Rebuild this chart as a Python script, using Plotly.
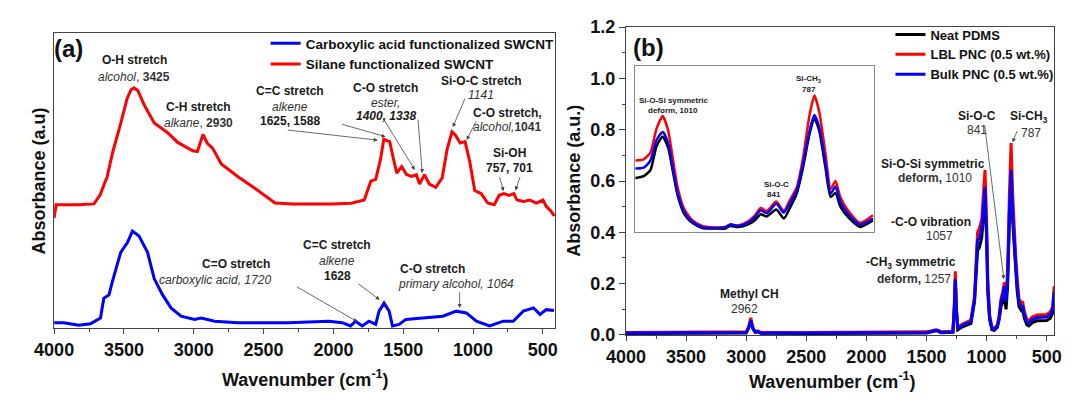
import plotly.graph_objects as go

# ---------------- data: panel (a) ----------------
wn_silane = [4000, 3986, 3826, 3714, 3686, 3672, 3620, 3581, 3525, 3477, 3449, 3428, 3400, 3355,
             3283, 3187, 3115, 3007, 2974, 2955, 2934, 2904, 2863, 2803, 2683, 2563, 2418, 2290,
             2151, 2011, 1872, 1779, 1732, 1697, 1662, 1639, 1621, 1597, 1570, 1546, 1511, 1476,
             1441, 1406, 1383, 1348, 1313, 1267, 1221, 1186, 1151, 1127, 1092, 1057, 1023, 988,
             942, 895, 848, 813, 778, 743, 708, 685, 639, 593, 546, 499, 476, 441, 418]
abs_silane = [0.373, 0.418, 0.418, 0.421, 0.441, 0.450, 0.513, 0.595, 0.690, 0.778, 0.807, 0.814,
              0.804, 0.756, 0.695, 0.662, 0.629, 0.601, 0.598, 0.625, 0.656, 0.627, 0.608, 0.556,
              0.513, 0.474, 0.424, 0.421, 0.420, 0.421, 0.423, 0.434, 0.498, 0.504, 0.573, 0.640,
              0.636, 0.632, 0.573, 0.525, 0.547, 0.520, 0.514, 0.520, 0.488, 0.520, 0.488, 0.477,
              0.509, 0.605, 0.665, 0.654, 0.627, 0.632, 0.563, 0.466, 0.456, 0.424, 0.418, 0.450,
              0.456, 0.450, 0.456, 0.434, 0.429, 0.434, 0.424, 0.434, 0.413, 0.396, 0.380]

wn_carboxyl = [4000, 3932, 3823, 3740, 3668, 3644, 3607, 3583, 3523, 3475, 3439, 3392, 3331, 3283,
               3223, 3163, 3091, 2995, 2946, 2851, 2683, 2322, 2034, 1937, 1877, 1841, 1794, 1745,
               1697, 1673, 1637, 1601, 1577, 1529, 1481, 1361, 1216, 1120, 1048, 976, 881, 784,
               712, 640, 567, 520, 476, 420]
abs_carboxyl = [0.019, 0.019, 0.010, 0.015, 0.035, 0.102, 0.113, 0.158, 0.257, 0.290, 0.329, 0.312,
                0.257, 0.168, 0.113, 0.069, 0.041, 0.030, 0.035, 0.024, 0.019, 0.019, 0.024, 0.019,
                0.008, 0.024, 0.008, 0.024, 0.013, 0.058, 0.085, 0.058, 0.008, 0.013, 0.030, 0.035,
                0.041, 0.058, 0.052, 0.024, 0.008, 0.024, 0.024, 0.058, 0.069, 0.047, 0.063, 0.060]

# ---------------- data: panel (b) ----------------
wn_b = [4000, 3500, 3100, 3000, 2980, 2962, 2945, 2925, 2905, 2880, 2500, 2000, 1500, 1420, 1400,
        1380, 1280, 1268, 1260, 1250, 1240, 1200, 1130, 1100, 1090, 1075, 1060, 1040, 1025, 1013,
        1000, 990, 975, 955, 935, 910, 895, 880, 865, 851, 838, 825, 810, 796, 783, 770, 758, 745,
        730, 710, 700, 685, 665, 648, 620, 580, 540, 500, 470, 450, 437]
neat_pdms = [.006, .006, .006, .008, .025, .055, .025, .010, .012, .007, .006, .006, .008, .016, .014,
             .009, .010, .100, .210, .090, .020, .032, .045, .130, .210, .330, .340, .380, .470, .550,
             .380, .170, .060, .020, .018, .030, .060, .110, .130, .150, .100, .190, .440, .620, .450,
             .330, .260, .170, .110, .095, .100, .065, .040, .035, .048, .055, .055, .056, .065, .085, .150]
lbl_pnc = [.010, .010, .010, .012, .030, .067, .030, .012, .016, .010, .010, .010, .012, .020, .018,
           .012, .014, .120, .248, .100, .030, .042, .058, .150, .280, .400, .415, .450, .560, .643,
           .450, .220, .080, .030, .025, .040, .075, .140, .170, .205, .150, .250, .550, .748, .550,
           .400, .310, .220, .140, .125, .130, .090, .060, .055, .070, .078, .080, .080, .090, .110, .190]
bulk_pnc = [.008, .008, .008, .010, .027, .057, .027, .011, .014, .008, .008, .008, .010, .018, .016,
            .010, .012, .110, .217, .090, .025, .038, .052, .140, .260, .370, .375, .420, .500, .575,
            .400, .190, .070, .025, .022, .035, .070, .130, .155, .190, .130, .220, .480, .643, .480,
            .360, .280, .190, .125, .110, .115, .080, .050, .045, .060, .068, .070, .070, .080, .100, .170]

# inset (zoom of 1050-700 cm-1)
wn_in = [1050, 1038, 1028, 1019, 1010, 1002, 995, 988, 978, 966, 952, 933, 918, 911, 899, 885, 875,
         866, 857, 843, 832, 823, 813, 804, 794, 787, 780, 771, 763, 756, 749, 737, 720, 701]
lbl_in = [0.680, 0.684, 0.711, 0.804, 0.853, 0.797, 0.686, 0.575, 0.489, 0.446, 0.425, 0.419, 0.421,
          0.431, 0.427, 0.442, 0.464, 0.495, 0.483, 0.520, 0.483, 0.526, 0.575, 0.686, 0.859, 0.933,
          0.871, 0.711, 0.569, 0.600, 0.538, 0.483, 0.437, 0.467]
bulk_in = [0.649, 0.652, 0.680, 0.760, 0.791, 0.748, 0.649, 0.551, 0.477, 0.440, 0.421, 0.417, 0.420,
           0.430, 0.425, 0.437, 0.458, 0.486, 0.474, 0.511, 0.477, 0.514, 0.563, 0.662, 0.797, 0.857,
           0.810, 0.674, 0.551, 0.579, 0.520, 0.470, 0.430, 0.454]
neat_in = [0.612, 0.619, 0.643, 0.736, 0.773, 0.730, 0.637, 0.544, 0.470, 0.436, 0.417, 0.415, 0.415,
           0.425, 0.421, 0.430, 0.446, 0.470, 0.462, 0.489, 0.454, 0.495, 0.551, 0.649, 0.785, 0.844,
           0.797, 0.656, 0.538, 0.553, 0.501, 0.458, 0.421, 0.446]

x_ticks = [4000, 3500, 3000, 2500, 2000, 1500, 1000, 500]

# ---------------- figure ----------------
W, H = 1070, 401
FONT = "Liberation Sans, Arial, sans-serif"
RED, BLUE, BLACK = "#FF0000", "#0000FF", "#000000"

fig = go.Figure()

fig.add_trace(go.Scatter(x=wn_carboxyl, y=abs_carboxyl, mode="lines", name="Carboxylic acid functionalized SWCNT",
                         line=dict(color=BLUE, width=3), xaxis="x", yaxis="y", legend="legend"))
fig.add_trace(go.Scatter(x=wn_silane, y=abs_silane, mode="lines", name="Silane functionalized SWCNT",
                         line=dict(color=RED, width=3), xaxis="x", yaxis="y", legend="legend"))

fig.add_trace(go.Scatter(x=wn_b, y=neat_pdms, mode="lines", name="Neat PDMS",
                         line=dict(color=BLACK, width=3), xaxis="x2", yaxis="y2", legend="legend2"))
fig.add_trace(go.Scatter(x=wn_b, y=lbl_pnc, mode="lines", name="LBL PNC (0.5 wt.%)",
                         line=dict(color=RED, width=3), xaxis="x2", yaxis="y2", legend="legend2"))
fig.add_trace(go.Scatter(x=wn_b, y=bulk_pnc, mode="lines", name="Bulk PNC (0.5 wt.%)",
                         line=dict(color=BLUE, width=3), xaxis="x2", yaxis="y2", legend="legend2"))

for ys, c in [(neat_in, BLACK), (lbl_in, RED), (bulk_in, BLUE)]:
    fig.add_trace(go.Scatter(x=wn_in, y=ys, mode="lines", showlegend=False,
                             line=dict(color=c, width=2.5, shape="spline", smoothing=0.6),
                             xaxis="x3", yaxis="y3"))

tickfont = dict(family=FONT, size=18, color="#111", weight="bold")
frame = dict(showline=True, linecolor="#444", linewidth=1.2, mirror=True, showgrid=False, zeroline=False)

fig.update_layout(
    width=W, height=H, margin=dict(l=0, r=0, t=0, b=0),
    paper_bgcolor="white", plot_bgcolor="white",
    font=dict(family=FONT, color="#111"),
    xaxis=dict(domain=[35 / W, 549 / W], range=[4000, 412], tickvals=x_ticks, ticks="outside",
               ticklen=5, tickcolor="#444", tickfont=tickfont,
               minor=dict(dtick=250, ticks="outside", ticklen=3, tickcolor="#444"), anchor="y", **frame),
    yaxis=dict(domain=[1 - 335 / H, 1 - 24 / H], range=[0, 1], showticklabels=False, ticks="",
               anchor="x", **frame),
    xaxis2=dict(domain=[621.7 / W, 1061 / W], range=[4000, 437], tickvals=x_ticks, ticks="outside",
                ticklen=5, tickcolor="#444", tickfont=tickfont,
                minor=dict(dtick=250, ticks="outside", ticklen=3, tickcolor="#444"), anchor="y2", **frame),
    yaxis2=dict(domain=[1 - 342 / H, 1 - 18 / H], range=[0, 1.2], dtick=0.2, tickformat=".1f",
                ticks="outside", ticklen=6, tickcolor="#444", tickfont=tickfont,
                minor=dict(dtick=0.1, ticks="outside", ticklen=3, tickcolor="#444"), anchor="x2", **frame),
    xaxis3=dict(domain=[630.7 / W, 875.7 / W], range=[1051, 700], showticklabels=False, ticks="",
                showline=True, linecolor="#888", linewidth=1, mirror=True, showgrid=False, zeroline=False,
                anchor="y3"),
    yaxis3=dict(domain=[1 - 234 / H, 1 - 58.5 / H], range=[0.4, 1.05], showticklabels=False, ticks="",
                showline=True, linecolor="#888", linewidth=1, mirror=True, showgrid=False, zeroline=False,
                anchor="x3"),
    legend=dict(x=252 / W, y=1 - 19 / H, xanchor="left", yanchor="top", bgcolor="rgba(0,0,0,0)",
                font=dict(family=FONT, size=13.5, color="#111", weight="bold"), tracegroupgap=0,
                itemwidth=30),
    legend2=dict(x=893 / W, y=1 - 10 / H, xanchor="left", yanchor="top", bgcolor="rgba(0,0,0,0)",
                 font=dict(family=FONT, size=13, color="#111", weight="bold"), tracegroupgap=0,
                 itemwidth=30),
)

ann = []


def label(text, px, py, size=12, color="#1a1a1a", angle=0):
    ann.append(dict(x=px / W, y=1 - py / H, xref="paper", yref="paper", text=text, showarrow=False,
                    xanchor="center", yanchor="middle", textangle=angle,
                    font=dict(family=FONT, size=size, color=color)))


def arrow(tx, ty, hx, hy):
    ann.append(dict(x=hx / W, y=1 - hy / H, xref="paper", yref="paper", ax=tx - hx, ay=ty - hy,
                    axref="pixel", ayref="pixel", text="", showarrow=True, arrowhead=2, arrowsize=1,
                    arrowwidth=0.8, arrowcolor="#444", standoff=0))


GRAY = "#333"
# panel (a)
label("<b>(a)</b>", 50, 41, size=24, color="#111")
label("<b>O-H stretch</b>", 117, 53)
label("<i>alcohol</i>, <b>3425</b>", 117, 70, color=GRAY)
label("<b>C-H stretch</b>", 183, 102.6)
label("<i>alkane</i>, <b>2930</b>", 183, 118.8, color=GRAY)
label("<b>C=C stretch</b>", 277, 85.4)
label("<i>alkene</i>", 277, 102, color=GRAY)
label("<b>1625, 1588</b>", 277, 117)
label("<b>C-O stretch</b>", 375.3, 82)
label("<i>ester,</i>", 375.3, 97.5, color=GRAY)
label("<b><i>1400, 1338</i></b>", 375.3, 112)
label("<b>Si-O-C stretch</b>", 473.3, 74.5)
label("<i>1141</i>", 473.3, 89.3, color=GRAY)
label("<b>C-O stretch,</b>", 500, 108.3)
label("<i>alcohol,</i><b>1041</b>", 500, 123.3, color=GRAY)
label("<b>Si-OH</b>", 501.7, 150)
label("<b>757, 701</b>", 501.7, 166)
label("<b>C=O stretch</b>", 222, 267)
label("<i>carboxylic acid, 1720</i>", 199.7, 284.4, color=GRAY)
label("<b>C=C stretch</b>", 325.4, 247.5)
label("<i>alkene</i>", 325.4, 263.7, color=GRAY)
label("<b>1628</b>", 325.4, 279.9)
label("<b>C-O stretch</b>", 423.6, 272.3)
label("<i>primary alcohol, 1064</i>", 447.7, 288.8, color=GRAY)

arrow(275.5, 126.7, 367, 137)
arrow(330, 120.5, 375, 133.3)
arrow(373.3, 116.7, 405, 168.3)
arrow(408.3, 116.7, 412.7, 171.7)
arrow(456.7, 93.3, 444, 123.3)
arrow(468.3, 116.7, 458.3, 136.7)
arrow(491.7, 175, 496, 190.7)
arrow(513.3, 175, 508.3, 190)
arrow(284, 292.3, 346, 328)
arrow(346, 287.8, 369, 305)
arrow(451, 296.4, 451, 313.6)

label("<b>Wavenumber (cm<sup>-1</sup>)</b>", 292.7, 387.7, size=18, color="#111")
label("<b>Absorbance (a.u)</b>", 20, 180, size=18, color="#111", angle=-90)

# panel (b)
label("<b>(b)</b>", 645, 39, size=24, color="#111")
label("<b>Si-O-C</b>", 981.7, 111.7)
label("841", 981.7, 126, color=GRAY)
label("<b>Si-CH<sub>3</sub></b>", 1035, 112.7)
label("787", 1037, 129.3, color=GRAY)
label("<b>Si-O-Si symmetric</b>", 936.7, 161.7)
label("<b>deform,</b> 1010", 938.3, 177.3, color=GRAY)
label("<b>-C-O vibration</b>", 935, 223.3)
label("1057", 943.3, 238.3, color=GRAY)
label("<b>-CH<sub>3</sub> symmetric</b>", 914, 266)
label("<b>deform,</b> 1257", 916.7, 283.3, color=GRAY)
label("<b>Methyl CH</b>", 748, 298.7)
label("2962", 742.8, 314.3, color=GRAY)
arrow(990, 128.3, 1009.3, 283.3)
arrow(1023.3, 126.7, 1018.3, 139.3)

# inset labels
label("<b>Si-O-Si symmetric</b>", 670, 95, size=8)
label("<b>deform, 1010</b>", 670, 106, size=8)
label("<b>Si-CH<sub>3</sub></b>", 809, 72.3, size=8)
label("<b>787</b>", 809, 83.3, size=8)
label("<b>Si-O-C</b>", 775.7, 184, size=8)
label("<b>841</b>", 773.3, 194.3, size=8)

label("<b>Wavenumber (cm<sup>-1</sup>)</b>", 834, 390, size=18, color="#111")
label("<b>Absorbance (a.u.)</b>", 568, 180, size=18, color="#111", angle=-90)

fig.update_layout(annotations=ann)
fig.write_html("out.html")
